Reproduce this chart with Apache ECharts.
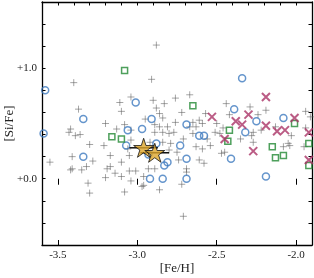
<!DOCTYPE html>
<html><head><meta charset="utf-8">
<script src="https://cdn.jsdelivr.net/npm/echarts@6/dist/echarts.min.js"></script>
<style>html,body{margin:0;padding:0;background:#fff}#c{width:314px;height:278px}</style>
</head><body><div id="c"></div>
<script>
// [Fe/H], [Si/Fe]
const plusPts = [
[-2.88,1.21],[-3.40,0.87],[-2.91,0.90],[-3.37,0.63],[-3.11,0.69],[-3.10,0.61],[-3.04,0.74],[-2.90,0.71],[-2.88,0.64],[-2.95,0.54],
[-3.20,0.50],[-3.13,0.45],[-3.08,0.49],[-3.42,0.45],[-3.43,0.42],[-3.39,0.39],[-3.36,0.40],[-3.30,0.31],[-3.21,0.30],[-3.04,0.35],
[-2.67,0.76],[-2.76,0.73],[-2.83,0.68],[-2.72,0.60],[-2.86,0.59],[-2.84,0.55],[-2.65,0.51],[-2.61,0.53],[-2.59,0.50],[-2.67,0.47],
[-2.63,0.47],[-2.50,0.50],[-2.89,0.49],[-2.86,0.47],[-2.81,0.47],[-2.76,0.51],[-3.04,0.44],[-2.89,0.42],[-2.84,0.42],[-2.80,0.41],
[-2.77,0.42],[-2.65,0.41],[-2.51,0.42],[-2.48,0.41],[-2.71,0.36],[-2.56,0.36],[-2.92,0.33],[-2.84,0.33],[-2.79,0.32],[-2.63,0.29],
[-2.54,0.30],[-2.44,0.68],[-2.29,0.65],[-2.19,0.62],[-2.42,0.58],[-2.24,0.58],[-1.94,0.61],[-1.91,0.56],[-2.46,0.46],[-2.27,0.42],
[-2.22,0.44],[-2.13,0.47],[-2.03,0.39],[-1.94,0.46],[-2.35,0.36],[-2.28,0.39],[-2.27,0.33],[-2.05,0.32],[-2.08,0.29],[-1.95,0.29],
[-2.57,0.59],[-2.45,0.24],[-2.04,0.30],[-3.55,0.15],[-3.41,0.20],[-3.28,0.16],[-3.41,0.09],[-3.42,0.08],[-3.35,0.08],[-3.32,0.11],
[-3.17,0.21],[-3.10,0.15],[-3.05,0.21],[-3.19,0.09],[-3.17,0.11],[-3.05,0.07],[-3.14,0.05],[-3.10,0.02],[-3.20,0.01],[-3.04,-0.02],
[-3.31,-0.04],[-3.30,-0.13],[-3.08,-0.12],[-3.06,0.27],[-2.97,-0.07],[-2.75,0.24],[-2.74,0.17],[-2.59,0.27],[-2.61,0.17],[-2.58,0.14],
[-3.01,0.07],[-2.93,0.09],[-2.89,0.09],[-2.96,0.02],[-2.96,-0.06],[-2.86,-0.10],[-2.69,0.06],[-2.72,-0.05],[-2.71,-0.34],[-2.47,0.23],
[-2.69,0.09],[-2.80,0.26]
];
const circlePts = [
[-3.58,0.80],[-2.34,0.91],[-3.01,0.69],[-3.34,0.54],[-2.91,0.54],[-3.06,0.44],[-2.97,0.45],[-3.59,0.41],[-3.07,0.30],[-2.69,0.49],
[-2.61,0.39],[-2.58,0.39],[-2.88,0.32],[-2.73,0.30],[-2.39,0.63],[-2.25,0.52],[-2.08,0.55],[-2.32,0.42],[-3.34,0.20],[-2.81,0.15],
[-2.83,0.12],[-2.69,0.18],[-2.92,0.00],[-2.84,0.00],[-2.69,0.00],[-2.41,0.18],[-2.19,0.02],[-2.93,0.22]
];
const squarePts = [
[-3.08,0.98],[-3.16,0.38],[-3.10,0.36],[-2.65,0.66],[-2.01,0.50],[-2.42,0.44],[-2.43,0.34],[-2.15,0.29],[-2.13,0.19],[-2.08,0.21],
[-1.92,0.32],[-1.92,0.12]
];
const crossPts = [
[-2.53,0.56],[-2.19,0.74],[-2.30,0.58],[-2.01,0.55],[-2.38,0.52],[-2.34,0.49],[-2.19,0.48],[-2.12,0.43],[-2.07,0.44],[-1.92,0.42],
[-2.45,0.36],[-2.27,0.25],[-1.92,0.17]
];
const starPts = [[-2.96,0.28],[-2.89,0.235]];
const starErr = [0.09,0.09];

const serif = '"Liberation Serif","DejaVu Serif",serif';
const plusPath = 'path://M0,5L10,5M5,0L5,10';
const crossPath = 'path://M0,0L10,10M10,0L0,10';
const starPath = 'path://M50,0L61.2,34.6L97.6,34.5L68.1,55.9L79.4,90.5L50,69L20.6,90.5L31.9,55.9L2.4,34.5L38.8,34.6Z';
const XMIN=-3.6, XMAX=-1.9, YMIN=-0.6, YMAX=1.6;
const axLine = {show:true, onZero:false, lineStyle:{color:'#000', width:1.3}};

const chart = echarts.init(document.getElementById('c'), null, {renderer:'canvas'});
chart.setOption({
  animation:false,
  backgroundColor:'#fff',
  grid:{left:42, right:2, top:2, bottom:33, containLabel:false, outerBoundsMode:'none'},
  xAxis:[
    {type:'value', position:'bottom', min:XMIN, max:XMAX, splitNumber:4,
     axisLine:axLine, axisTick:{show:true, inside:true, length:5, lineStyle:{color:'#000', width:1}},
     axisLabel:{color:'#222', fontFamily:serif, fontSize:11, margin:5,
       formatter:v=>{const k=Math.round(v*2); return Math.abs(v*2-k)>1e-6?'':v.toFixed(1);}},
     splitLine:{show:false},
     name:'[Fe/H]', nameLocation:'middle', nameGap:17, nameMoveOverlap:false,
     nameTextStyle:{color:'#222', fontFamily:serif, fontSize:13}},
    {type:'value', position:'top', min:XMIN, max:XMAX, interval:0.1,
     axisLine:axLine, axisTick:{show:true, inside:true, length:3.5, lineStyle:{color:'#000', width:1}},
     axisLabel:{show:false}, splitLine:{show:false}},
    {type:'value', position:'top', min:XMIN, max:XMAX, splitNumber:4,
     axisLine:{show:false}, axisTick:{show:true, inside:true, length:6, lineStyle:{color:'#000', width:1}},
     axisLabel:{show:false}, splitLine:{show:false}}
  ],
  yAxis:[
    {type:'value', position:'left', min:YMIN, max:YMAX, interval:0.2,
     axisLine:axLine, axisTick:{show:true, inside:true, length:3.5, lineStyle:{color:'#000', width:1}},
     axisLabel:{color:'#222', fontFamily:serif, fontSize:11, margin:5,
       formatter:v=>{const k=Math.round(v); if(Math.abs(v-k)>1e-6) return ''; if(k!==0&&k!==1) return ''; return '+'+k.toFixed(1);}},
     splitLine:{show:false},
     name:'[Si/Fe]', nameLocation:'middle', nameGap:26, nameRotate:90, nameMoveOverlap:false,
     nameTextStyle:{color:'#222', fontFamily:serif, fontSize:13}},
    {type:'value', position:'right', min:YMIN, max:YMAX, interval:0.2,
     axisLine:axLine, axisTick:{show:true, inside:true, length:3.5, lineStyle:{color:'#000', width:1}},
     axisLabel:{show:false}, splitLine:{show:false}}
  ],
  series:[
    {type:'scatter', data:plusPts, symbol:plusPath, symbolSize:7, z:2,
     itemStyle:{color:'rgba(0,0,0,0)', borderColor:'rgba(95,95,95,0.7)', borderWidth:1}},
    {type:'scatter', data:circlePts, symbol:'circle', symbolSize:7, z:3,
     itemStyle:{color:'rgba(0,0,0,0)', borderColor:'#3F7BBF', borderWidth:1.5}},
    {type:'scatter', data:squarePts, symbol:'rect', symbolSize:6, z:3,
     itemStyle:{color:'rgba(0,0,0,0)', borderColor:'#228833', borderWidth:1.5}},
    {type:'scatter', data:crossPts, symbol:crossPath, symbolSize:8, z:3,
     itemStyle:{color:'rgba(0,0,0,0)', borderColor:'#AA3366', borderWidth:2}},
    {type:'custom', z:4, data:starPts.map((p,i)=>[p[0],p[1],starErr[i]]),
     renderItem:(params, api)=>{
       const x=api.value(0), y=api.value(1), e=api.value(2);
       const a=api.coord([x-e,y]), b=api.coord([x+e,y]);
       return {type:'line', shape:{x1:a[0],y1:a[1],x2:b[0],y2:b[1]}, style:{stroke:'#111', lineWidth:1.5}};
     }},
    {type:'scatter', data:starPts, symbol:starPath, symbolSize:20, symbolKeepAspect:true, z:5,
     itemStyle:{color:'#DDA52A', borderColor:'#111', borderWidth:1}}
  ]
});
</script></body></html>
